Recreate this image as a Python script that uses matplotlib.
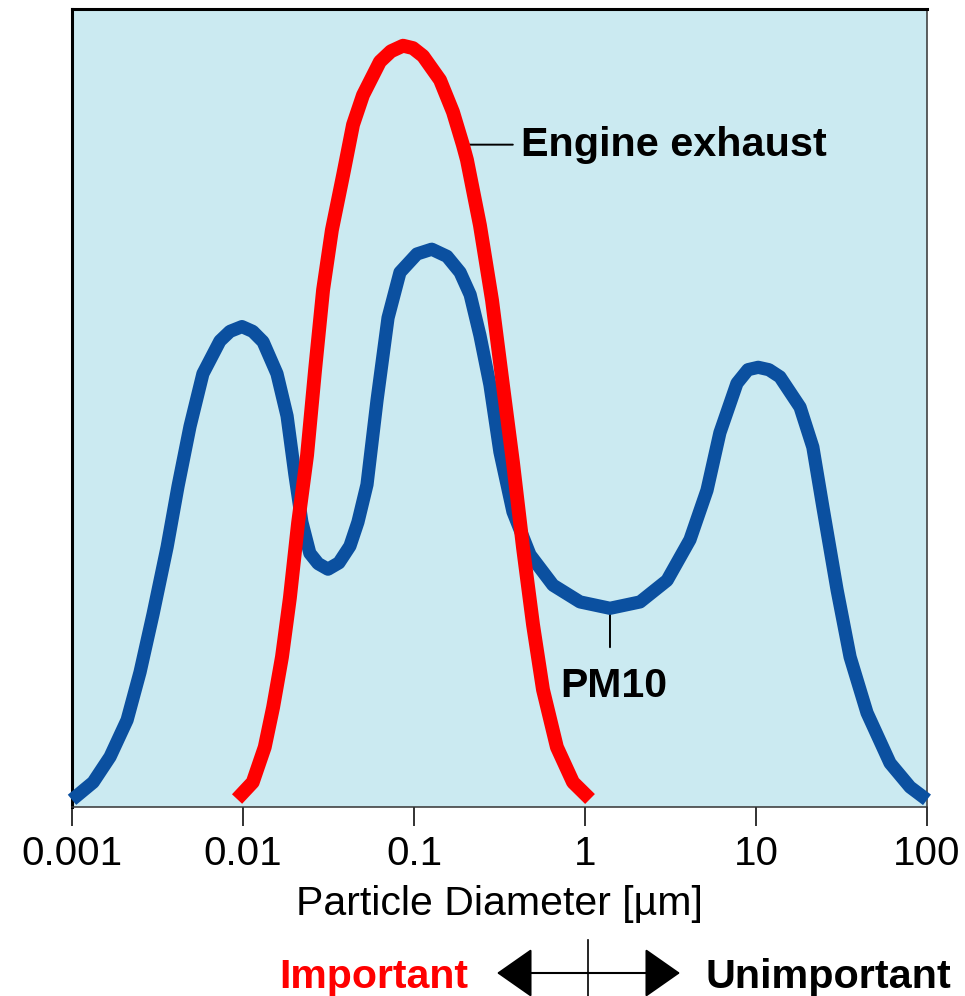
import matplotlib
matplotlib.use("Agg")
import matplotlib.pyplot as plt
from matplotlib.lines import Line2D

plt.rcParams['font.family'] = ['Liberation Sans', 'DejaVu Sans']

# particle diameter [um] vs relative concentration
pm10_d = [0.001, 0.00133, 0.00167, 0.0021, 0.0025, 0.00298, 0.0036, 0.00417,
          0.0049, 0.00583, 0.00733, 0.00839, 0.00986, 0.0114, 0.0131, 0.0158,
          0.0181, 0.0201, 0.0221, 0.0246, 0.0275, 0.0314, 0.0364, 0.0422,
          0.047, 0.0531, 0.0608, 0.0705, 0.0828, 0.104, 0.127, 0.156, 0.186,
          0.213, 0.243, 0.278, 0.318, 0.379, 0.477, 0.65, 0.935, 1.4, 2.1,
          3.02, 4.11, 5.17, 6.15, 7.74, 8.97, 10.3, 11.9, 13.8, 18.1, 21.5,
          24.6, 29.8, 35.5, 44.6, 60.8, 79.6, 100]
pm10_y = [0.9, 3.1, 6.3, 10.9, 16.9, 24.2, 32.6, 40.2,
          47.7, 54.3, 58.4, 59.6, 60.2, 59.6, 58.3, 54.3,
          49.0, 41.7, 35.7, 31.8, 30.5, 29.8, 30.6, 32.7,
          35.7, 40.4, 51.0, 61.3, 67.0, 69.3, 69.9, 69.0, 67.0,
          64.2, 59.1, 52.9, 44.5, 37.0, 31.6, 27.8, 25.7, 24.9, 25.7,
          28.4, 33.5, 39.7, 46.9, 53.1, 54.8, 55.1, 54.8, 53.9, 50.1, 45.1,
          37.6, 27.2, 18.8, 11.8, 5.5, 2.5, 0.9]

exh_d = [0.00923, 0.0114, 0.0134, 0.015, 0.0169, 0.0188, 0.021, 0.0237,
         0.0264, 0.0294, 0.0331, 0.0385, 0.044, 0.0503, 0.0632, 0.0733,
         0.0863, 0.0986, 0.113, 0.142, 0.169, 0.193, 0.204, 0.243, 0.286,
         0.331, 0.379, 0.434, 0.497, 0.568, 0.685, 0.851, 1.07]
exh_y = [1.0, 3.1, 7.5, 12.5, 18.8, 26.2, 35.6, 44.1,
         54.8, 64.8, 72.3, 79.2, 85.5, 89.2, 93.4, 94.7,
         95.4, 95.1, 94.1, 91.1, 87.1, 83.0, 81.1, 72.9, 63.5,
         52.9, 43.2, 32.5, 22.8, 14.7, 7.5, 3.1, 1.0]

tick_vals = [0.001, 0.01, 0.1, 1, 10, 100]
tick_labels = ["0.001", "0.01", "0.1", "1", "10", "100"]

BLUE = "#0b50a0"
RED = "#ff0000"

fig = plt.figure(figsize=(9.65, 9.96), dpi=100)
ax = fig.add_axes([72/965, 189/996, 855/965, 798/996])
ax.set_facecolor("#cbeaf1")

ax.plot(pm10_d, pm10_y, color=BLUE, lw=9.5, solid_capstyle='butt',
        solid_joinstyle='round', clip_on=False, zorder=3)
ax.plot(exh_d, exh_y, color=RED, lw=10, solid_capstyle='butt',
        solid_joinstyle='round', clip_on=False, zorder=4)

ax.set_xscale('log')
ax.set_xlim(0.001, 100)
ax.set_ylim(0, 100)
ax.set_xticks(tick_vals)
ax.set_xticklabels(tick_labels)
ax.minorticks_off()
ax.set_yticks([])
ax.tick_params(axis='x', direction='out', length=14, width=1.3,
               pad=6, labelsize=29, color='#222222')

for side in ['top', 'left']:
    ax.spines[side].set_linewidth(2.2)
for side in ['bottom', 'right']:
    ax.spines[side].set_linewidth(1.1)
    ax.spines[side].set_color('#333333')

ax.set_xlabel("Particle Diameter [µm]", fontsize=29.5, labelpad=9)

# leader lines and labels
i_exh = exh_d.index(0.193)
ax.annotate("", xy=(exh_d[i_exh], exh_y[i_exh]), xytext=(36, 0),
            textcoords='offset points',
            arrowprops=dict(arrowstyle='-', lw=1.4, color='black',
                            shrinkA=0, shrinkB=0), zorder=2)
ax.annotate("Engine exhaust", xy=(exh_d[i_exh], exh_y[i_exh]),
            xytext=(42, 0), textcoords='offset points',
            ha='left', va='center', fontsize=29.8, fontweight='bold')

i_pm = pm10_d.index(1.4)
ax.annotate("", xy=(pm10_d[i_pm], pm10_y[i_pm]), xytext=(0, -28),
            textcoords='offset points',
            arrowprops=dict(arrowstyle='-', lw=1.4, color='black',
                            shrinkA=0, shrinkB=0), zorder=2)
ax.annotate("PM10", xy=(pm10_d[i_pm], pm10_y[i_pm]),
            xytext=(3, -64), textcoords='offset points',
            ha='center', va='baseline', fontsize=29.5, fontweight='bold')

# importance arrow under the axis
fig.text(468/965, 8/996, "Important", color=RED, fontsize=29.5,
         fontweight='bold', ha='right', va='baseline')
fig.text(705/965, 8/996, "Unimportant", color='black', fontsize=29.8,
         fontweight='bold', ha='left', va='baseline')
ax.annotate("", xy=(680, 23), xytext=(497, 23),
            xycoords='figure pixels', textcoords='figure pixels',
            arrowprops=dict(arrowstyle='<|-|>,head_length=0.4,head_width=0.28',
                            mutation_scale=57, lw=1.5, color='black',
                            shrinkA=0, shrinkB=0))
fig.add_artist(Line2D([588/965, 588/965], [0, 56/996], color='black',
                      lw=1.2, transform=fig.transFigure))

fig.savefig("out.png", dpi=100)
